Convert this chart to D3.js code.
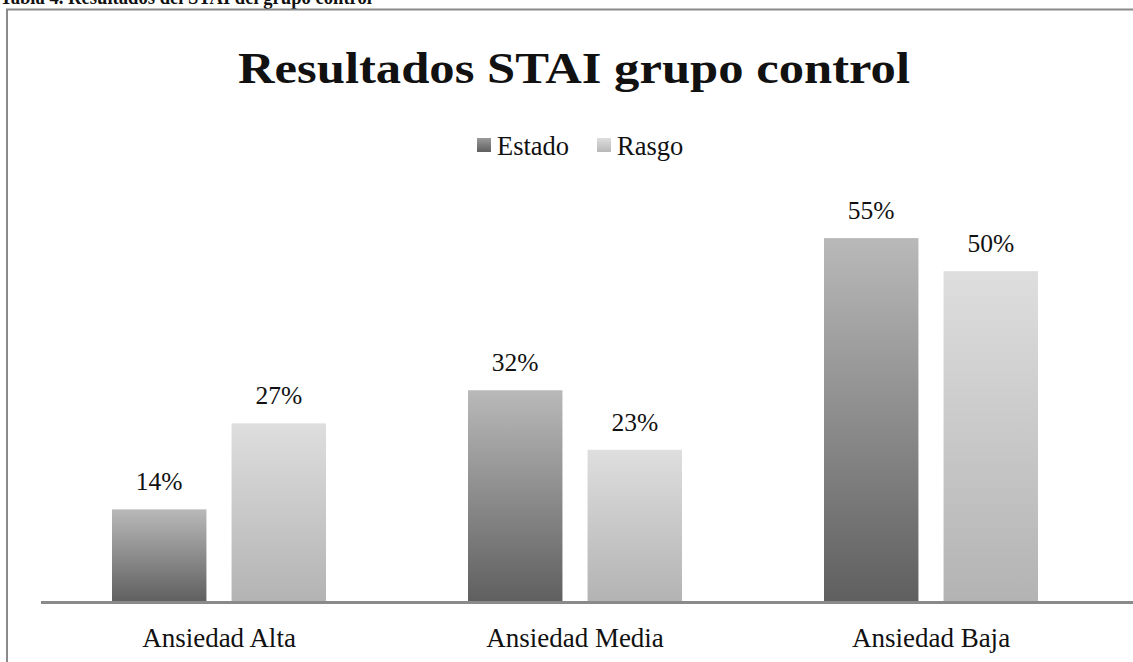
<!DOCTYPE html>
<html>
<head>
<meta charset="utf-8">
<script src="https://cdn.jsdelivr.net/npm/d3@7"></script>
<style>
  html, body { margin: 0; padding: 0; background: #fff; overflow: hidden; }
  svg { display: block; }
  text { font-family: "Liberation Serif", "DejaVu Serif", serif; fill: #111; }
</style>
</head>
<body>
<svg id="chart" width="1133" height="662"></svg>
<script>
const categories = ["Ansiedad Alta", "Ansiedad Media", "Ansiedad Baja"];
const seriesNames = ["Estado", "Rasgo"];
const estado = [0.14, 0.32, 0.55];
const rasgo = [0.27, 0.23, 0.50];
const valueLabels = [["14%", "32%", "55%"], ["27%", "23%", "50%"]];
const headerText = "Tabla 4. Resultados del STAI del grupo control";
const titleText = "Resultados STAI grupo control";

const W = 1133, H = 662;
const svg = d3.select("#chart");

const defs = svg.append("defs");
const grads = [
  {id: "gEstado", top: "#b9b9b9", bottom: "#5f5f5f"},
  {id: "gRasgo", top: "#dedede", bottom: "#b3b3b3"},
  {id: "lEstado", top: "#9a9a9a", bottom: "#5f5f5f"},
  {id: "lRasgo", top: "#dedede", bottom: "#b8b8b8"}
];
grads.forEach(g => {
  const lg = defs.append("linearGradient").attr("id", g.id)
    .attr("x1", 0).attr("y1", 0).attr("x2", 0).attr("y2", 1);
  lg.append("stop").attr("offset", "0%").attr("stop-color", g.top);
  lg.append("stop").attr("offset", "100%").attr("stop-color", g.bottom);
});

// Header (cut off at the top edge, as in the reference)
svg.append("text")
  .attr("x", 0).attr("y", 4)
  .attr("font-size", 21).attr("font-weight", "bold")
  .attr("textLength", 372).attr("lengthAdjust", "spacingAndGlyphs")
  .text(headerText);

// chart frame
svg.append("rect")
  .attr("x", 7).attr("y", 9.5)
  .attr("width", W + 20).attr("height", H + 20)
  .attr("fill", "none").attr("stroke", "#8a8a8a").attr("stroke-width", 2);

// Title
svg.append("text")
  .attr("x", 574).attr("y", 83)
  .attr("text-anchor", "middle")
  .attr("font-size", 45).attr("font-weight", "bold")
  .attr("textLength", 672).attr("lengthAdjust", "spacingAndGlyphs")
  .text(titleText);

// Scales
const x0 = d3.scaleBand().domain(categories).range([41, 1109]).paddingInner(0).paddingOuter(0);
const x1 = d3.scaleBand().domain(seriesNames).range([71, 285]).paddingInner(0.21).paddingOuter(0);
const y = d3.scaleLinear().domain([0, 0.6]).range([602, 205]);

const data = categories.map((c, i) => ({cat: c, vals: [estado[i], rasgo[i]]}));

const groups = svg.append("g").selectAll("g").data(data).join("g")
  .attr("transform", d => `translate(${x0(d.cat)},0)`);

groups.selectAll("rect").data(d => d.vals.map((v, j) => ({s: seriesNames[j], v, j})))
  .join("rect")
  .attr("x", d => x1(d.s))
  .attr("y", d => y(d.v))
  .attr("width", x1.bandwidth())
  .attr("height", d => y(0) - y(d.v))
  .attr("fill", d => d.j === 0 ? "url(#gEstado)" : "url(#gRasgo)");

groups.each(function(d, i) {
  d3.select(this).selectAll("text.val").data(d.vals.map((v, j) => ({s: seriesNames[j], v, j})))
    .join("text").attr("class", "val")
    .attr("x", e => x1(e.s) + x1.bandwidth() / 2)
    .attr("y", e => y(e.v) - 19)
    .attr("text-anchor", "middle")
    .attr("font-size", 25.5)
    .attr("fill", "#222")
    .text(e => valueLabels[e.j][i]);
});

// Axis
const axis = d3.axisBottom(x0).tickSize(0).tickPadding(0);
const ax = svg.append("g").attr("transform", "translate(0,602)").call(axis);
ax.select(".domain").remove();
svg.append("line").attr("x1", 41).attr("x2", W).attr("y1", 602.5).attr("y2", 602.5)
  .attr("stroke", "#8a8a8a").attr("stroke-width", 3);
ax.selectAll(".tick text")
  .attr("y", 44.5).attr("dy", null)
  .attr("font-size", 27)
  .attr("font-family", "'Liberation Serif', serif")
  .attr("fill", "#111");

// Legend
const legend = svg.append("g");
const legendItems = [
  {name: seriesNames[0], x: 477, fill: "url(#lEstado)"},
  {name: seriesNames[1], x: 597, fill: "url(#lRasgo)"}
];
legendItems.forEach(it => {
  legend.append("rect").attr("x", it.x).attr("y", 138).attr("width", 14).attr("height", 14).attr("fill", it.fill);
  legend.append("text").attr("x", it.x + 20).attr("y", 155).attr("font-size", 26.5).text(it.name);
});
</script>
</body>
</html>
